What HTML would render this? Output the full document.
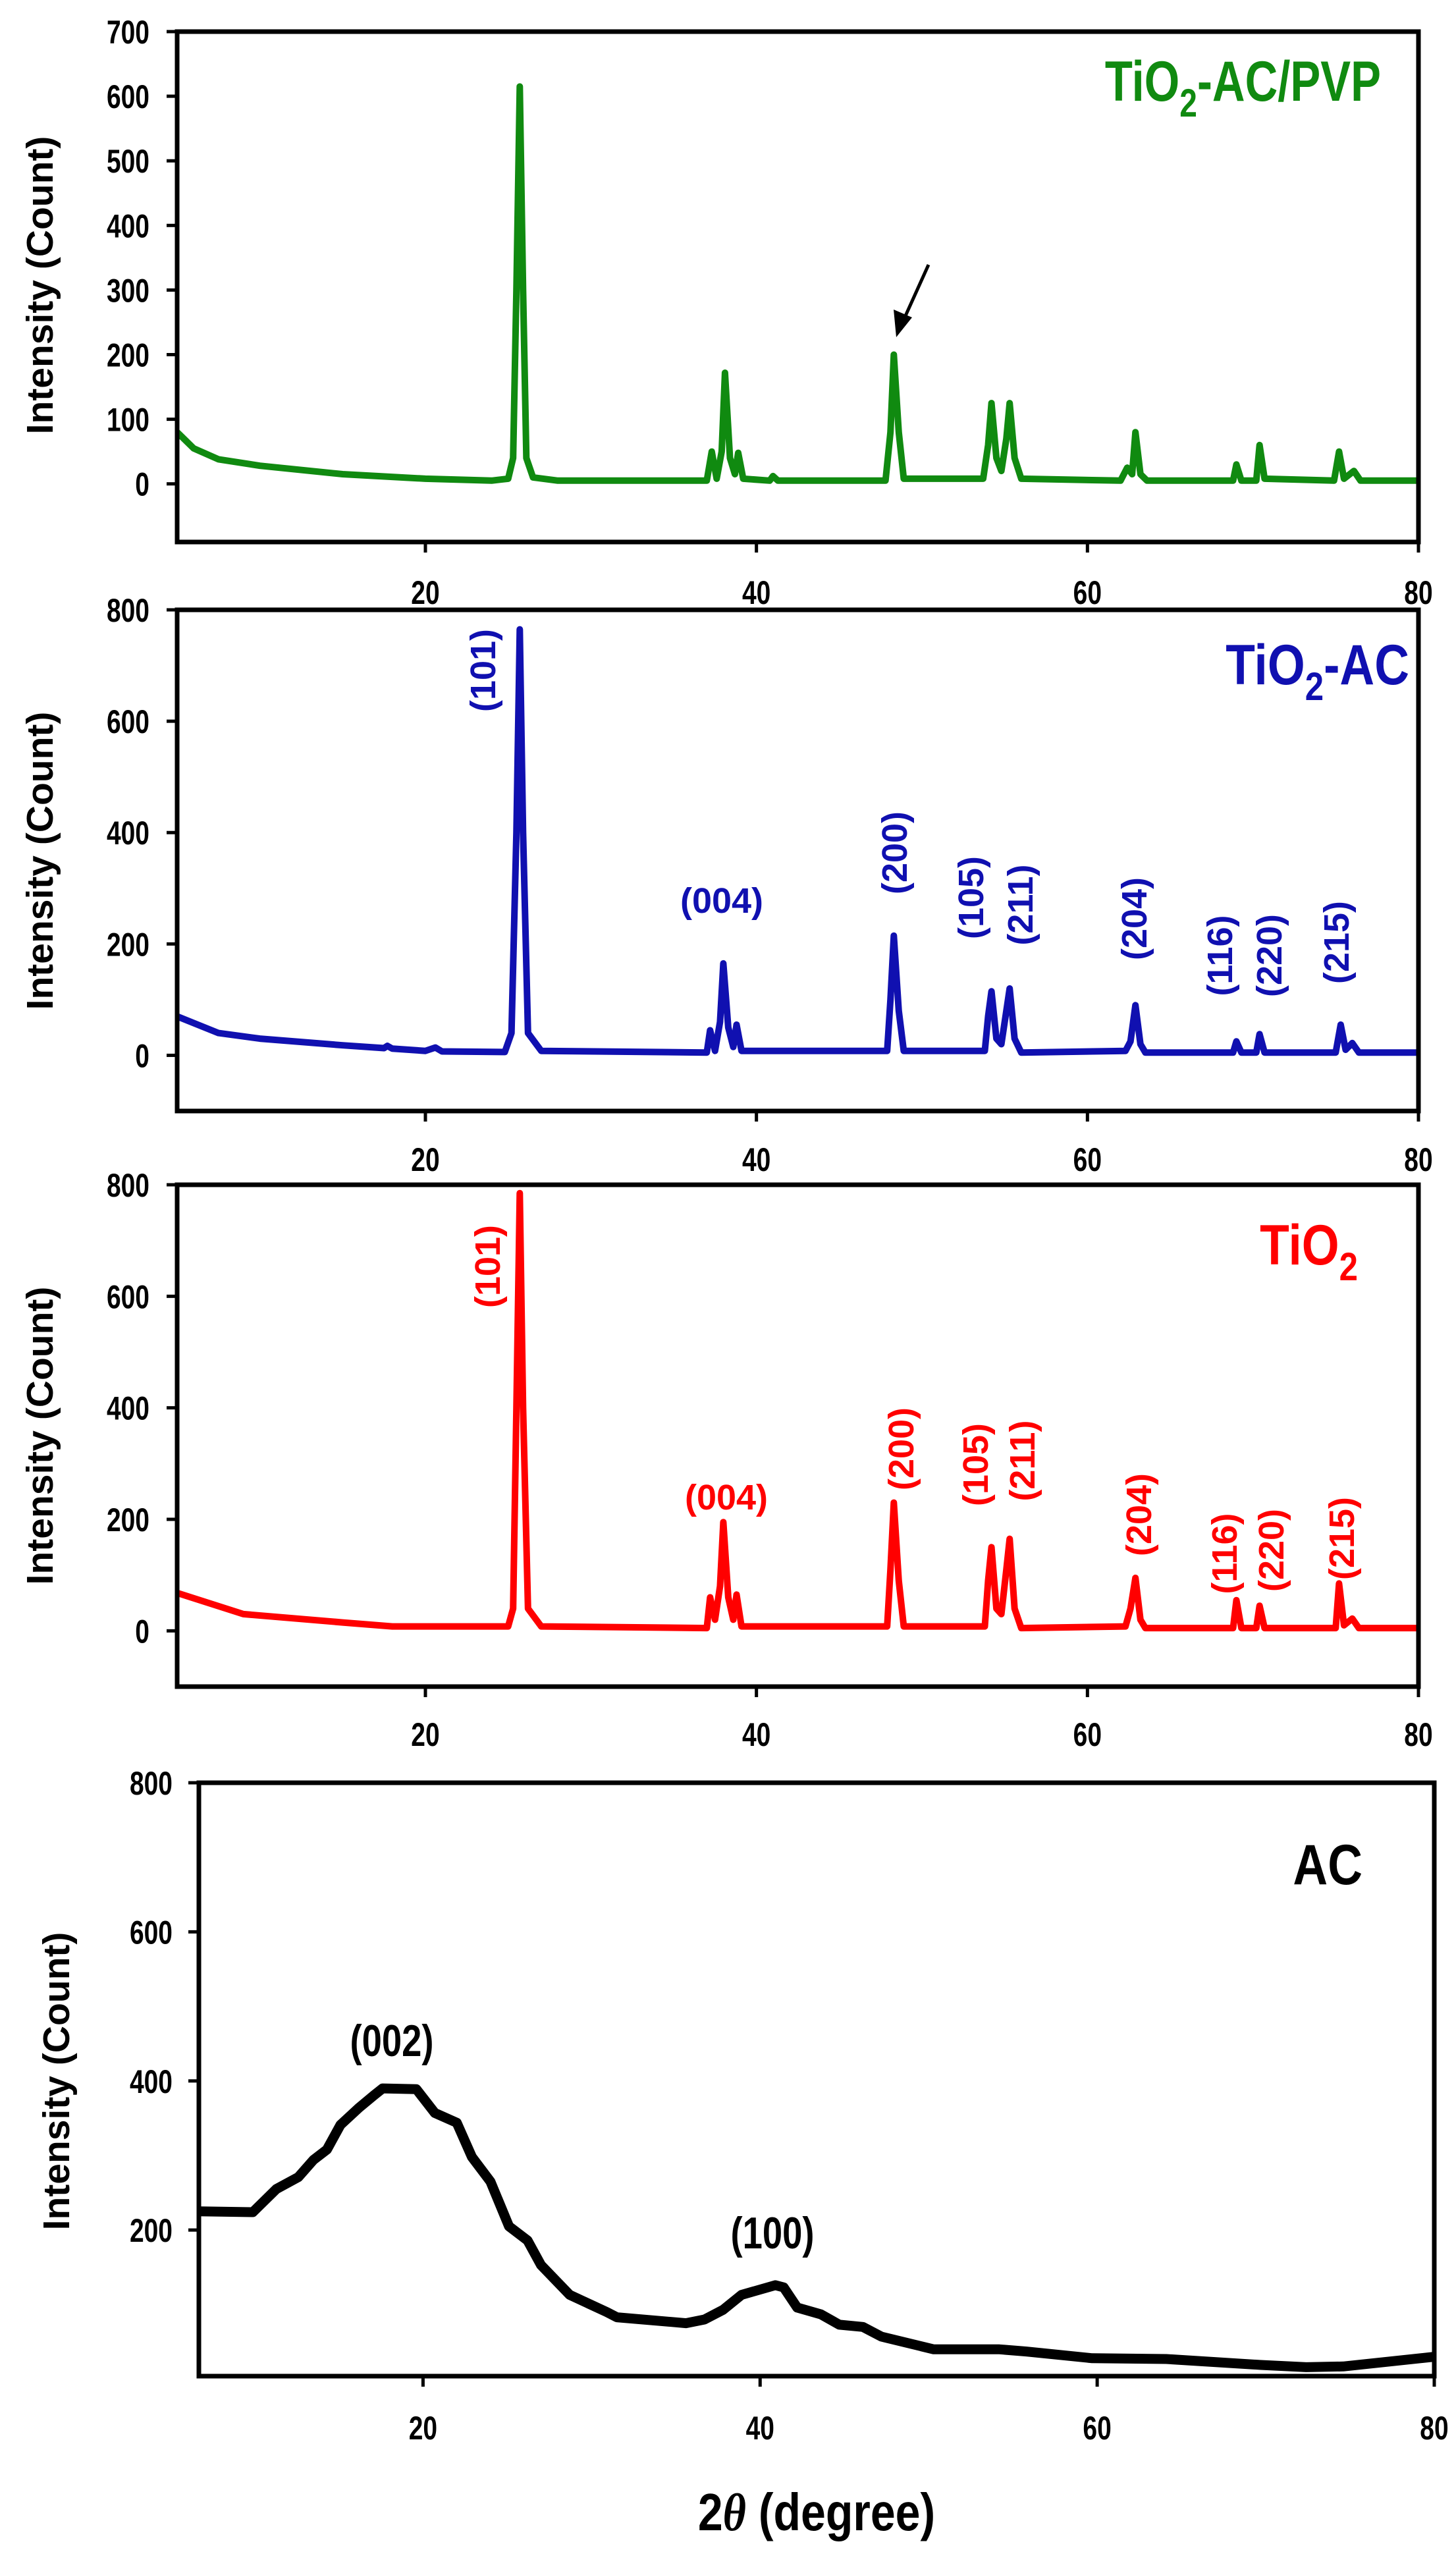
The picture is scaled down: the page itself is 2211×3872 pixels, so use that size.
<!DOCTYPE html>
<html><head><meta charset="utf-8"><style>
html,body{margin:0;padding:0;background:#fff}
svg{display:block}
.tk{font-family:"Liberation Sans",sans-serif;font-weight:bold;font-size:50px}
.yt{font-family:"Liberation Sans",sans-serif;font-weight:bold;font-size:57px}
.hkl{font-family:"Liberation Sans",sans-serif;font-weight:bold;font-size:54px}
.lab{font-family:"Liberation Sans",sans-serif;font-weight:bold;font-size:86px}
</style></head><body>
<svg id="fig" width="2211" height="3872" viewBox="0 0 2211 3872" xmlns="http://www.w3.org/2000/svg"></svg>
<script>
const greenX=[5,6,7.5,10,15,20,24,25.0,25.3,25.5,25.7,25.9,26.1,26.5,28,37,37.3,37.6,37.9,38.1,38.4,38.7,38.9,39.2,40.8,41,41.3,47.8,48.1,48.3,48.6,48.9,53.7,54.0,54.2,54.5,54.8,55.1,55.3,55.6,56,62,62.4,62.7,62.9,63.2,63.6,68.8,69.0,69.3,70.2,70.4,70.7,74.9,75.2,75.5,76.1,76.5,80];
const greenY=[80,55,38,28,15,8,5,8,40,300,615,300,40,10,5,5,50,8,50,172,40,15,48,8,5,12,5,5,80,200,80,8,8,60,125,40,20,70,125,40,8,5,25,15,80,15,5,5,30,5,5,60,8,5,50,8,20,5,5];
const blueX=[5,7.5,10,15,17.5,17.7,18,20,20.6,21,24.8,25.2,25.5,25.7,25.9,26.2,27,37,37.2,37.5,37.8,38.0,38.3,38.6,38.8,39.1,47.9,48.1,48.3,48.6,48.9,53.8,54.0,54.2,54.5,54.8,55.1,55.3,55.6,56,62.3,62.6,62.9,63.2,63.5,68.8,69.0,69.3,70.2,70.4,70.7,75,75.3,75.6,76.0,76.4,80];
const blueY=[70,40,30,18,13,17,12,8,14,7,6,40,400,765,400,40,8,5,45,8,60,165,50,15,55,8,8,100,215,80,8,8,70,115,30,20,80,120,30,5,8,25,90,20,5,5,25,5,5,38,5,5,55,10,22,5,5];
const redX=[5,9,15,18,25,25.3,25.5,25.7,25.9,26.2,27,37,37.2,37.5,37.8,38.0,38.3,38.6,38.8,39.1,47.9,48.1,48.3,48.6,48.9,53.8,54.0,54.2,54.5,54.8,55.1,55.3,55.6,56,62.3,62.6,62.9,63.2,63.5,68.8,69.0,69.3,70.2,70.4,70.7,75,75.2,75.5,76.0,76.4,80];
const redY=[68,30,15,8,8,40,400,785,400,40,8,5,60,20,80,195,60,20,65,8,8,110,230,90,8,8,90,150,40,30,110,165,40,5,8,40,95,20,5,5,55,5,5,45,5,5,85,10,22,5,5];
const acX=[6.7,9.9,11.3,12.6,13.5,14.3,15.1,16.2,17.1,17.6,19.6,20.7,22.0,22.9,24.0,25.1,26.2,27.0,28.7,30.9,31.5,35.6,36.7,37.8,38.9,40.9,41.4,42.2,43.6,44.7,46.1,47.2,50.3,54.2,55.8,59.7,64.1,69.7,72.4,74.6,80];
const acY=[225,224,255,271,294,308,341,364,381,390,389,357,344,298,265,205,186,153,113,90,83,75,80,93,113,126,123,96,87,73,70,57,40,40,37,28,27,19,16,17,30];
const xTicks=[20,40,60,80];
const yTicks1=[0,100,200,300,400,500,600,700];
const yTicks23=[0,200,400,600,800];
const yTicks4=[200,400,600,800];
const hklBlue=["(101)","(200)","(105)","(211)","(204)","(116)","(220)","(215)"];
const hklRed=["(101)","(200)","(105)","(211)","(204)","(116)","(220)","(215)"];

const NS="http://www.w3.org/2000/svg";
const svg=document.getElementById('fig');
function mk(t,a,p){const e=document.createElementNS(NS,t);for(const k in a)e.setAttribute(k,a[k]);(p||svg).appendChild(e);return e;}
function narrow(x,y){return 'translate('+x+' '+y+') scale(0.78 1) translate('+(-x)+' '+(-y)+')';}

const panels=[
 {name:'tio2-ac-pvp',L:269,R:2154,T:48,B:823,x0:5,x1:80,y0:-90,y1:700,xs:greenX,ys:greenY,col:'#108a10',lw:10,yt:yTicks1,xlY:917,ylabR:227,ytC:433,ytX:60},
 {name:'tio2-ac',L:269,R:2154,T:926,B:1687,x0:5,x1:80,y0:-100,y1:800,xs:blueX,ys:blueY,col:'#1010b0',lw:10,yt:yTicks23,xlY:1778,ylabR:227,ytC:1307,ytX:60},
 {name:'tio2',L:269,R:2154,T:1799,B:2561,x0:5,x1:80,y0:-100,y1:800,xs:redX,ys:redY,col:'#ff0000',lw:10,yt:yTicks23,xlY:2651,ylabR:227,ytC:2180,ytX:60},
 {name:'ac',L:302,R:2178,T:2707,B:3608,x0:6.7,x1:80,y0:4,y1:800,xs:acX,ys:acY,col:'#000',lw:15,yt:yTicks4,xlY:3704,ylabR:262,ytC:3160,ytX:85}
];
panels.forEach((p,i)=>{
 const g=mk('g',{});
 
 
 const sx=v=>p.L+(v-p.x0)/(p.x1-p.x0)*(p.R-p.L);
 const sy=v=>p.B-(v-p.y0)/(p.y1-p.y0)*(p.B-p.T);
 const cid='clip'+i;
 const cp=mk('clipPath',{id:cid},g);mk('rect',{x:p.L,y:p.T,width:p.R-p.L,height:p.B-p.T},cp);
 let d='';p.xs.forEach((x,j)=>{d+=(j?'L':'M')+sx(x).toFixed(1)+','+sy(p.ys[j]).toFixed(1);});
 const ln=mk('path',{d:d,fill:'none',stroke:p.col,'stroke-width':p.lw,'stroke-linejoin':'round','clip-path':'url(#'+cid+')'},g);
 
 
 const fr=mk('rect',{x:p.L,y:p.T,width:p.R-p.L,height:p.B-p.T,fill:'none',stroke:'#000','stroke-width':7},g);
 
 
 xTicks.forEach(v=>{
  const X=sx(v);
  mk('line',{x1:X,y1:p.B,x2:X,y2:p.B+16,stroke:'#000','stroke-width':5},g);
  const t=mk('text',{x:X,y:p.xlY,'text-anchor':'middle',class:'tk',transform:narrow(X,p.xlY)},g);t.textContent=v;
  
  
 });
 p.yt.forEach(v=>{
  const Y=sy(v);
  mk('line',{x1:p.L-16,y1:Y,x2:p.L,y2:Y,stroke:'#000','stroke-width':5},g);
  const t=mk('text',{x:p.ylabR,y:Y+18,'text-anchor':'end',class:'tk',transform:narrow(p.ylabR,Y)},g);t.textContent=v;
  
  
 });
 const yt=mk('text',{x:p.ytX,y:p.ytC,'text-anchor':'middle',class:'yt',transform:'rotate(-90 '+(p.ytX)+' '+p.ytC+')',dy:'20'},g);
 yt.textContent='Intensity (Count)';
 
 
});
function rot(txt,x,y,col){const t=mk('text',{x:x,y:y,'text-anchor':'middle',class:'hkl',fill:col,transform:'rotate(-90 '+x+' '+y+')',dy:'19'});t.textContent=txt;
 
 }
const bPos=[[733,1018],[1358,1295],[1474,1363],[1549,1374],[1722,1395],[1852,1451],[1927,1451],[2029,1431]];
hklBlue.forEach((s,i)=>rot(s,bPos[i][0],bPos[i][1],'#1010b0'));
const rPos=[[740,1923],[1368,2200],[1481,2224],[1552,2218],[1729,2300],[1859,2359],[1930,2354],[2037,2336]];
hklRed.forEach((s,i)=>rot(s,rPos[i][0],rPos[i][1],'#ff0000'));
</script>
<div style="position:absolute;left:0;top:0;width:2211px;height:3872px;pointer-events:none">
<svg width="2211" height="3872" style="position:absolute;left:0;top:0">
 <text x="1096" y="1386" text-anchor="middle" class="hkl" fill="#1010b0">(004)</text>
 <text x="1103" y="2292" text-anchor="middle" class="hkl" fill="#ff0000">(004)</text>
 <text x="2097" y="153" text-anchor="end" class="lab" fill="#108a10" transform="translate(2097 153) scale(0.8 1) translate(-2097 -153)">TiO<tspan dy="24" font-size="60">2</tspan><tspan dy="-24">-AC/PVP</tspan></text>
 <text x="2140" y="1039" text-anchor="end" class="lab" fill="#1010b0" transform="translate(2140 1039) scale(0.85 1) translate(-2140 -1039)">TiO<tspan dy="24" font-size="60">2</tspan><tspan dy="-24">-AC</tspan></text>
 <text x="2062" y="1920" text-anchor="end" class="lab" fill="#ff0000" transform="translate(2062 1920) scale(0.85 1) translate(-2062 -1920)">TiO<tspan dy="24" font-size="60">2</tspan></text>
 <text x="2069" y="2861" text-anchor="end" class="lab" fill="#000" transform="translate(2069 2861) scale(0.85 1) translate(-2069 -2861)">AC</text>
 <text x="595" y="3122" text-anchor="middle" class="lab" style="font-size:68px" transform="translate(595 3122) scale(0.8 1) translate(-595 -3122)">(002)</text>
 <text x="1173" y="3414" text-anchor="middle" class="lab" style="font-size:68px" transform="translate(1173 3414) scale(0.8 1) translate(-1173 -3414)">(100)</text>
 <text x="1240" y="3842" text-anchor="middle" class="lab" style="font-size:80px" transform="translate(1240 3842) scale(0.85 1) translate(-1240 -3842)">2<tspan font-family="Liberation Serif" font-style="italic">θ</tspan> (degree)</text>
 <g>
  <line x1="1410" y1="402" x2="1368" y2="495" stroke="#000" stroke-width="5"/>
  <polygon points="1361,512 1357,470 1385,482" fill="#000"/>
 </g>
</svg></div>
</body></html>
